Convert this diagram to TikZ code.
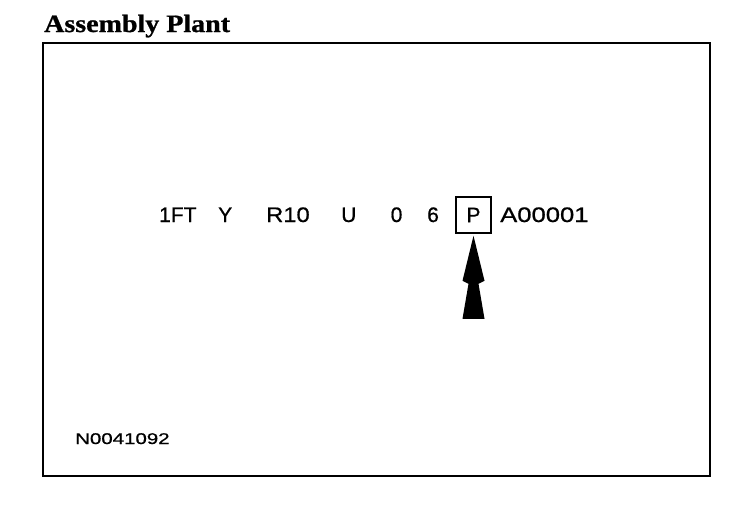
\documentclass[tikz,border=0pt]{standalone}
\usepackage{fontspec}
\setmainfont[FakeBold=0.7]{Liberation Sans}
\newfontfamily\titlefont[FakeBold=0.9]{Liberation Serif Bold}
\usepackage{tikz}
\usetikzlibrary{positioning,calc}

\begin{document}
\begin{tikzpicture}[
    x=1pt, y=-1pt,
    heading/.style={anchor=base west, inner sep=0pt, font=\titlefont\fontsize{25}{30}\selectfont},
    code/.style={anchor=base west, inner sep=0pt, font=\fontsize{21}{25}\selectfont},
    marked/.style={draw, line width=1.5pt, minimum width=35pt, minimum height=36pt, inner sep=0pt, font=\fontsize{21}{25}\selectfont},
    refno/.style={anchor=base west, inner sep=0pt, font=\fontsize{15.5}{18}\selectfont}
]
\useasboundingbox (0,0) rectangle (752,512);
\node[heading] (title) at (44,32) {\scalebox{1.12}[1]{Assembly Plant}};
\draw[line width=2pt] (43,43) rectangle (710,476);

% identification number
\node[code] (wmi) at (159,222) {1FT};
\node[code] (line) at (218,222) {Y};
\node[code] (body) at (266,222) {\scalebox{1.13}[1]{R10}};
\node[code] (engine) at (341,222) {U};
\node[code] (check) at (390.5,222) {0};
\node[code] (year) at (427,222) {6};
\node[marked] (plant) at (473.5,215) {P};
\node[code] (serial) at (500,222) {\scalebox{1.22}[1]{A00001}};

% pointer
\fill ($(plant.south)+(0,2)$) -- ++(11,45) -- ++(-6,3) -- ++(6,35) -- ++(-22,0) -- ++(6,-35) -- ++(-6,-3) -- cycle;

\node[refno] (ref) at (75,444) {\scalebox{1.32}[1]{N0041092}};
\end{tikzpicture}
\end{document}
